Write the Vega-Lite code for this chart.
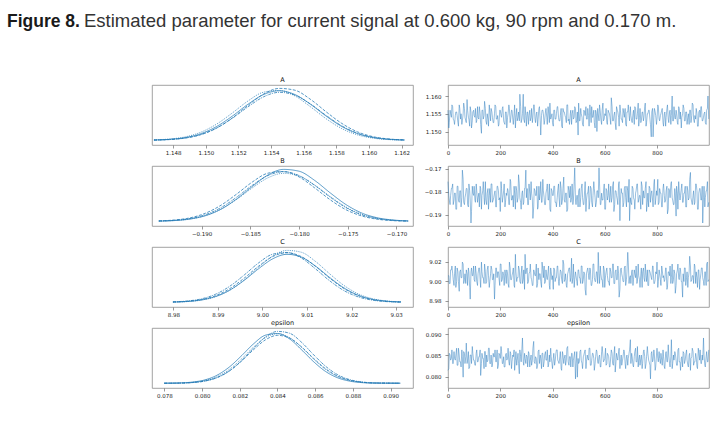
{
"$schema": "https://vega.github.io/schema/vega-lite/v6.json",
"background": "white",
"padding": {"left": 7, "top": 11, "right": 5, "bottom": 5},
"title": {"text": "Figure 8.", "anchor": "start", "frame": "group", "dx": -145, "offset": -18.5, "font": "Liberation Sans", "fontSize": 17.5, "fontWeight": "bold", "color": "#1a1a1a", "lineHeight": 18.5},
"bounds": "flush",
"datasets": {
"trace": [
{"t":0,"A":1.156,"B":-0.1755,"C":9.0055,"E":0.0815},
{"t":5,"A":1.1525,"B":-0.1835,"C":8.9975,"E":0.0855},
{"t":10,"A":1.155,"B":-0.1815,"C":9.0115,"E":0.0839},
{"t":15,"A":1.1575,"B":-0.1785,"C":9.0155,"E":0.0863},
{"t":20,"A":1.1535,"B":-0.1855,"C":9.0015,"E":0.0831},
{"t":25,"A":1.152,"B":-0.1805,"C":9.0075,"E":0.0843},
{"t":30,"A":1.1555,"B":-0.1875,"C":8.9935,"E":0.0851},
{"t":35,"A":1.1545,"B":-0.1775,"C":9.0135,"E":0.0827},
{"t":40,"A":1.1515,"B":-0.1835,"C":8.9995,"E":0.0867},
{"t":45,"A":1.1565,"B":-0.1795,"C":9.0095,"E":0.0835},
{"t":50,"A":1.155,"B":-0.1865,"C":9.0035,"E":0.0823},
{"t":55,"A":1.153,"B":-0.1705,"C":9.0195,"E":0.0847},
{"t":60,"A":1.158,"B":-0.1845,"C":8.9975,"E":0.0859},
{"t":65,"A":1.154,"B":-0.1825,"C":9.0075,"E":0.0831},
{"t":70,"A":1.1525,"B":-0.1785,"C":9.0115,"E":0.0879},
{"t":75,"A":1.156,"B":-0.1855,"C":8.9955,"E":0.0839},
{"t":80,"A":1.1535,"B":-0.1765,"C":9.0095,"E":0.0819},
{"t":85,"A":1.157,"B":-0.1835,"C":8.9815,"E":0.0851},
{"t":90,"A":1.151,"B":-0.1885,"C":9.0135,"E":0.0831},
{"t":95,"A":1.1555,"B":-0.1805,"C":9.0055,"E":0.0855},
{"t":100,"A":1.1545,"B":-0.1775,"C":9.0015,"E":0.0839},
{"t":105,"A":1.1565,"B":-0.1845,"C":9.0155,"E":0.0827},
{"t":110,"A":1.153,"B":-0.1795,"C":8.9995,"E":0.0863},
{"t":115,"A":1.154,"B":-0.1825,"C":9.0075,"E":0.0835},
{"t":120,"A":1.157,"B":-0.1865,"C":9.0135,"E":0.0847},
{"t":125,"A":1.152,"B":-0.1785,"C":8.9935,"E":0.0803},
{"t":130,"A":1.156,"B":-0.1815,"C":9.0095,"E":0.0855},
{"t":135,"A":1.1535,"B":-0.1755,"C":9.0035,"E":0.0843},
{"t":140,"A":1.1585,"B":-0.1855,"C":9.0175,"E":0.0859},
{"t":145,"A":1.153,"B":-0.1835,"C":8.9975,"E":0.0823},
{"t":150,"A":1.155,"B":-0.1805,"C":9.0115,"E":0.0835},
{"t":155,"A":1.1515,"B":-0.1875,"C":9.0055,"E":0.0867},
{"t":160,"A":1.1555,"B":-0.1785,"C":8.9995,"E":0.0831},
{"t":165,"A":1.1565,"B":-0.1765,"C":9.0155,"E":0.0851},
{"t":170,"A":1.154,"B":-0.1845,"C":9.0015,"E":0.0827},
{"t":175,"A":1.1525,"B":-0.1825,"C":9.0075,"E":0.0847},
{"t":180,"A":1.1575,"B":-0.1795,"C":8.9955,"E":0.0863},
{"t":185,"A":1.1535,"B":-0.1865,"C":9.0135,"E":0.0835},
{"t":190,"A":1.1545,"B":-0.1775,"C":9.0095,"E":0.0819},
{"t":195,"A":1.152,"B":-0.1835,"C":9.0035,"E":0.0855},
{"t":200,"A":1.156,"B":-0.1885,"C":9.0175,"E":0.0843},
{"t":205,"A":1.154,"B":-0.1785,"C":8.9995,"E":0.0859},
{"t":210,"A":1.157,"B":-0.1825,"C":9.0095,"E":0.0831},
{"t":215,"A":1.1525,"B":-0.1765,"C":8.9955,"E":0.0823},
{"t":220,"A":1.1555,"B":-0.1845,"C":9.0075,"E":0.0851},
{"t":225,"A":1.151,"B":-0.1815,"C":9.0115,"E":0.0839},
{"t":230,"A":1.155,"B":-0.1795,"C":8.9975,"E":0.0867},
{"t":235,"A":1.1565,"B":-0.1855,"C":9.0195,"E":0.0827},
{"t":240,"A":1.1535,"B":-0.1755,"C":9.0015,"E":0.0855},
{"t":245,"A":1.156,"B":-0.1835,"C":9.0055,"E":0.0835},
{"t":250,"A":1.152,"B":-0.1865,"C":9.0135,"E":0.0847},
{"t":255,"A":1.1575,"B":-0.1805,"C":8.9935,"E":0.0815},
{"t":260,"A":1.154,"B":-0.1775,"C":9.0095,"E":0.0859},
{"t":265,"A":1.153,"B":-0.1845,"C":9.0035,"E":0.0839},
{"t":270,"A":1.1555,"B":-0.1725,"C":9.0155,"E":0.0831},
{"t":275,"A":1.1605,"B":-0.1825,"C":8.9995,"E":0.0863},
{"t":280,"A":1.1525,"B":-0.1875,"C":9.0075,"E":0.0835},
{"t":285,"A":1.155,"B":-0.1795,"C":8.9975,"E":0.0891},
{"t":290,"A":1.1535,"B":-0.1845,"C":9.0115,"E":0.0827},
{"t":295,"A":1.157,"B":-0.1785,"C":9.0275,"E":0.0843},
{"t":300,"A":1.1515,"B":-0.1825,"C":9.0115,"E":0.0851},
{"t":305,"A":1.1555,"B":-0.1855,"C":8.9975,"E":0.0823},
{"t":310,"A":1.1545,"B":-0.1765,"C":9.0075,"E":0.0855},
{"t":315,"A":1.153,"B":-0.1835,"C":9.0175,"E":0.0839},
{"t":320,"A":1.1565,"B":-0.1805,"C":9.0015,"E":0.0827},
{"t":325,"A":1.154,"B":-0.1915,"C":8.9955,"E":0.0867},
{"t":330,"A":1.1575,"B":-0.1785,"C":9.0095,"E":0.0835},
{"t":335,"A":1.1525,"B":-0.1815,"C":9.0055,"E":0.0847},
{"t":340,"A":1.1555,"B":-0.1775,"C":8.9935,"E":0.0819},
{"t":345,"A":1.1535,"B":-0.1865,"C":9.0135,"E":0.0859},
{"t":350,"A":1.157,"B":-0.1835,"C":9.0075,"E":0.0831},
{"t":355,"A":1.149,"B":-0.1755,"C":8.9995,"E":0.0843},
{"t":360,"A":1.156,"B":-0.1845,"C":9.0195,"E":0.0855},
{"t":365,"A":1.155,"B":-0.1795,"C":9.0035,"E":0.0823},
{"t":370,"A":1.153,"B":-0.1855,"C":8.9975,"E":0.0851},
{"t":375,"A":1.1565,"B":-0.1805,"C":9.0115,"E":0.0839},
{"t":380,"A":1.152,"B":-0.1765,"C":9.0015,"E":0.0863},
{"t":385,"A":1.1555,"B":-0.1835,"C":9.0155,"E":0.0827},
{"t":390,"A":1.158,"B":-0.1875,"C":8.9915,"E":0.0835},
{"t":395,"A":1.154,"B":-0.1785,"C":9.0095,"E":0.0847},
{"t":400,"A":1.1525,"B":-0.1815,"C":9.0055,"E":0.0819},
{"t":405,"A":1.156,"B":-0.1775,"C":9.0135,"E":0.0855},
{"t":410,"A":1.1535,"B":-0.1845,"C":8.9995,"E":0.0835},
{"t":415,"A":1.155,"B":-0.1865,"C":9.0035,"E":0.0863},
{"t":420,"A":1.157,"B":-0.1795,"C":9.0155,"E":0.0839},
{"t":425,"A":1.153,"B":-0.1825,"C":8.9955,"E":0.0831},
{"t":430,"A":1.1545,"B":-0.1755,"C":9.0115,"E":0.0859},
{"t":435,"A":1.1515,"B":-0.1855,"C":9.0015,"E":0.0815},
{"t":440,"A":1.1565,"B":-0.1785,"C":9.0215,"E":0.0851},
{"t":445,"A":1.1555,"B":-0.1835,"C":8.9995,"E":0.0843},
{"t":450,"A":1.154,"B":-0.1805,"C":9.0075,"E":0.0827},
{"t":455,"A":1.1575,"B":-0.1885,"C":8.9935,"E":0.0867},
{"t":460,"A":1.153,"B":-0.1775,"C":9.0095,"E":0.0835},
{"t":465,"A":1.152,"B":-0.1825,"C":9.0135,"E":0.0847},
{"t":470,"A":1.156,"B":-0.1845,"C":9.0035,"E":0.0823},
{"t":475,"A":1.155,"B":-0.1765,"C":8.9975,"E":0.0855},
{"t":480,"A":1.1535,"B":-0.1835,"C":9.0175,"E":0.0839},
{"t":485,"A":1.157,"B":-0.1695,"C":9.0015,"E":0.0859},
{"t":490,"A":1.1525,"B":-0.1855,"C":9.0055,"E":0.0831},
{"t":495,"A":1.1555,"B":-0.1815,"C":8.9955,"E":0.0799},
{"t":500,"A":1.158,"B":-0.1795,"C":9.0115,"E":0.0831},
{"t":505,"A":1.153,"B":-0.1865,"C":9.0035,"E":0.0859},
{"t":510,"A":1.155,"B":-0.1785,"C":9.0155,"E":0.0839},
{"t":515,"A":1.152,"B":-0.1825,"C":8.9975,"E":0.0819},
{"t":520,"A":1.156,"B":-0.1855,"C":9.0095,"E":0.0851},
{"t":525,"A":1.1545,"B":-0.1755,"C":8.9915,"E":0.0863},
{"t":530,"A":1.1535,"B":-0.1835,"C":9.0075,"E":0.0835},
{"t":535,"A":1.1565,"B":-0.1805,"C":9.0135,"E":0.0843},
{"t":540,"A":1.1515,"B":-0.1875,"C":9.0015,"E":0.0867},
{"t":545,"A":1.1555,"B":-0.1775,"C":9.0115,"E":0.0827},
{"t":550,"A":1.157,"B":-0.1845,"C":8.9955,"E":0.0839},
{"t":555,"A":1.154,"B":-0.1815,"C":9.0175,"E":0.0855},
{"t":560,"A":1.1525,"B":-0.1785,"C":9.0035,"E":0.0815},
{"t":565,"A":1.156,"B":-0.1865,"C":8.9995,"E":0.0847},
{"t":570,"A":1.15,"B":-0.1795,"C":9.0095,"E":0.0859},
{"t":575,"A":1.155,"B":-0.1825,"C":9.0295,"E":0.0831},
{"t":580,"A":1.1575,"B":-0.1765,"C":8.9975,"E":0.0851},
{"t":585,"A":1.1535,"B":-0.1855,"C":9.0075,"E":0.0823},
{"t":590,"A":1.156,"B":-0.1835,"C":9.0015,"E":0.0871},
{"t":595,"A":1.153,"B":-0.1805,"C":9.0155,"E":0.0835},
{"t":600,"A":1.155,"B":-0.1875,"C":8.9935,"E":0.0843},
{"t":605,"A":1.1565,"B":-0.1785,"C":9.0095,"E":0.0827},
{"t":610,"A":1.152,"B":-0.1835,"C":9.0055,"E":0.0855},
{"t":615,"A":1.1555,"B":-0.1765,"C":8.9995,"E":0.0847},
{"t":620,"A":1.154,"B":-0.1825,"C":9.0135,"E":0.0823},
{"t":625,"A":1.1595,"B":-0.1845,"C":9.0035,"E":0.0863},
{"t":630,"A":1.153,"B":-0.1775,"C":9.0175,"E":0.0831},
{"t":635,"A":1.1545,"B":-0.1885,"C":8.9975,"E":0.0851},
{"t":640,"A":1.1525,"B":-0.1795,"C":9.0095,"E":0.0811},
{"t":645,"A":1.157,"B":-0.1815,"C":9.0015,"E":0.0855},
{"t":650,"A":1.1555,"B":-0.1855,"C":9.0155,"E":0.0839},
{"t":655,"A":1.1515,"B":-0.1755,"C":8.9835,"E":0.0867},
{"t":660,"A":1.156,"B":-0.1835,"C":9.0115,"E":0.0835},
{"t":665,"A":1.1535,"B":-0.1805,"C":9.0075,"E":0.0827},
{"t":670,"A":1.1565,"B":-0.1865,"C":8.9995,"E":0.0847},
{"t":675,"A":1.154,"B":-0.1785,"C":9.0135,"E":0.0859},
{"t":680,"A":1.152,"B":-0.1825,"C":8.9955,"E":0.0819},
{"t":685,"A":1.1555,"B":-0.1775,"C":9.0095,"E":0.0851},
{"t":690,"A":1.1575,"B":-0.1845,"C":9.0195,"E":0.0843},
{"t":695,"A":1.153,"B":-0.1925,"C":9.0035,"E":0.0863},
{"t":700,"A":1.1545,"B":-0.1845,"C":8.9975,"E":0.0831},
{"t":705,"A":1.1525,"B":-0.1775,"C":9.0115,"E":0.0847},
{"t":710,"A":1.156,"B":-0.1825,"C":9.0015,"E":0.0823},
{"t":715,"A":1.157,"B":-0.1875,"C":9.0075,"E":0.0859},
{"t":720,"A":1.1535,"B":-0.1795,"C":9.0155,"E":0.0835},
{"t":725,"A":1.155,"B":-0.1765,"C":8.9995,"E":0.0871},
{"t":730,"A":1.1515,"B":-0.1835,"C":9.0055,"E":0.0839},
{"t":735,"A":1.1565,"B":-0.1815,"C":8.9935,"E":0.0827},
{"t":740,"A":1.153,"B":-0.1755,"C":9.0135,"E":0.0851},
{"t":745,"A":1.1555,"B":-0.1855,"C":9.0095,"E":0.0831},
{"t":750,"A":1.154,"B":-0.1825,"C":9.0035,"E":0.0863},
{"t":755,"A":1.158,"B":-0.1785,"C":9.0175,"E":0.0819},
{"t":760,"A":1.1525,"B":-0.1885,"C":8.9995,"E":0.0847},
{"t":765,"A":1.155,"B":-0.1805,"C":8.9955,"E":0.0855},
{"t":770,"A":1.156,"B":-0.1775,"C":9.0115,"E":0.0835},
{"t":775,"A":1.152,"B":-0.1845,"C":9.0075,"E":0.0795},
{"t":780,"A":1.1555,"B":-0.1795,"C":9.0015,"E":0.0859},
{"t":785,"A":1.1485,"B":-0.1865,"C":9.0155,"E":0.0839},
{"t":790,"A":1.1565,"B":-0.1745,"C":8.9975,"E":0.0851},
{"t":795,"A":1.1545,"B":-0.1835,"C":9.0095,"E":0.0823},
{"t":800,"A":1.1535,"B":-0.1815,"C":9.0195,"E":0.0867},
{"t":805,"A":1.157,"B":-0.1855,"C":8.9995,"E":0.0835},
{"t":810,"A":1.153,"B":-0.1785,"C":9.0075,"E":0.0843},
{"t":815,"A":1.155,"B":-0.1805,"C":8.9955,"E":0.0855},
{"t":820,"A":1.1565,"B":-0.1865,"C":9.0115,"E":0.0827},
{"t":825,"A":1.1515,"B":-0.1765,"C":9.0055,"E":0.0847},
{"t":830,"A":1.1555,"B":-0.1845,"C":9.0015,"E":0.0819},
{"t":835,"A":1.154,"B":-0.1795,"C":9.0135,"E":0.0859},
{"t":840,"A":1.1575,"B":-0.1895,"C":8.9935,"E":0.0835},
{"t":845,"A":1.1525,"B":-0.1785,"C":9.0095,"E":0.0851},
{"t":850,"A":1.156,"B":-0.1825,"C":9.0155,"E":0.0823},
{"t":855,"A":1.1545,"B":-0.1755,"C":9.0035,"E":0.0887},
{"t":860,"A":1.153,"B":-0.1835,"C":8.9975,"E":0.0831},
{"t":865,"A":1.157,"B":-0.1855,"C":9.0115,"E":0.0839},
{"t":870,"A":1.1535,"B":-0.1805,"C":8.9875,"E":0.0855},
{"t":875,"A":1.155,"B":-0.1775,"C":9.0075,"E":0.0827},
{"t":880,"A":1.152,"B":-0.1875,"C":9.0175,"E":0.0863},
{"t":885,"A":1.1565,"B":-0.1795,"C":9.0015,"E":0.0835},
{"t":890,"A":1.1555,"B":-0.1815,"C":9.0115,"E":0.0815},
{"t":895,"A":1.154,"B":-0.1765,"C":8.9995,"E":0.0847},
{"t":900,"A":1.1575,"B":-0.1845,"C":9.0075,"E":0.0859},
{"t":905,"A":1.153,"B":-0.1805,"C":9.0135,"E":0.0831},
{"t":910,"A":1.1555,"B":-0.1865,"C":8.9955,"E":0.0851},
{"t":915,"A":1.152,"B":-0.1775,"C":9.0095,"E":0.0839},
{"t":920,"A":1.155,"B":-0.1835,"C":9.0035,"E":0.0823},
{"t":925,"A":1.156,"B":-0.1745,"C":9.0255,"E":0.0855},
{"t":930,"A":1.1525,"B":-0.1825,"C":8.9995,"E":0.0843},
{"t":935,"A":1.158,"B":-0.1855,"C":9.0055,"E":0.0867},
{"t":940,"A":1.1535,"B":-0.1795,"C":8.9975,"E":0.0827},
{"t":945,"A":1.1545,"B":-0.1845,"C":9.0155,"E":0.0835},
{"t":950,"A":1.1565,"B":-0.1765,"C":9.0095,"E":0.0847},
{"t":955,"A":1.1515,"B":-0.1875,"C":8.9935,"E":0.0819},
{"t":960,"A":1.1555,"B":-0.1805,"C":9.0115,"E":0.0855},
{"t":965,"A":1.154,"B":-0.1785,"C":9.0015,"E":0.0863},
{"t":970,"A":1.157,"B":-0.1835,"C":9.0135,"E":0.0831},
{"t":975,"A":1.153,"B":-0.1935,"C":9.0035,"E":0.0839},
{"t":980,"A":1.155,"B":-0.1775,"C":8.9955,"E":0.0851},
{"t":985,"A":1.1525,"B":-0.1825,"C":9.0095,"E":0.0823},
{"t":990,"A":1.156,"B":-0.1795,"C":9.0175,"E":0.0859},
{"t":995,"A":1.16,"B":-0.1865,"C":8.9995,"E":0.0835},
{"t":3,"A":1.151,"B":-0.1815,"C":9.0055,"E":0.0819},
{"t":8,"A":1.156,"B":-0.1855,"C":8.9975,"E":0.0851},
{"t":13,"A":1.154,"B":-0.1785,"C":9.0115,"E":0.0843},
{"t":18,"A":1.157,"B":-0.1765,"C":9.0075,"E":0.0831},
{"t":23,"A":1.153,"B":-0.1835,"C":8.9955,"E":0.0859},
{"t":28,"A":1.1545,"B":-0.1805,"C":9.0155,"E":0.0839},
{"t":33,"A":1.1555,"B":-0.1875,"C":8.9995,"E":0.0867},
{"t":38,"A":1.1525,"B":-0.1775,"C":9.0095,"E":0.0827},
{"t":43,"A":1.1575,"B":-0.1845,"C":8.9895,"E":0.0851},
{"t":48,"A":1.1535,"B":-0.1795,"C":9.0115,"E":0.0835},
{"t":53,"A":1.152,"B":-0.1825,"C":9.0035,"E":0.0863},
{"t":58,"A":1.155,"B":-0.1745,"C":9.0175,"E":0.0799},
{"t":63,"A":1.1565,"B":-0.1855,"C":9.0015,"E":0.0855},
{"t":68,"A":1.153,"B":-0.1805,"C":8.9975,"E":0.0847},
{"t":73,"A":1.159,"B":-0.1785,"C":9.0075,"E":0.0831},
{"t":78,"A":1.154,"B":-0.1865,"C":9.0135,"E":0.0859},
{"t":83,"A":1.1515,"B":-0.1795,"C":8.9935,"E":0.0823},
{"t":88,"A":1.1555,"B":-0.1935,"C":9.0095,"E":0.0851},
{"t":93,"A":1.153,"B":-0.1775,"C":9.0055,"E":0.0871},
{"t":98,"A":1.156,"B":-0.1815,"C":9.0155,"E":0.0839},
{"t":103,"A":1.154,"B":-0.1835,"C":8.9995,"E":0.0827},
{"t":108,"A":1.1525,"B":-0.1765,"C":9.0075,"E":0.0855},
{"t":113,"A":1.157,"B":-0.1845,"C":8.9955,"E":0.0835},
{"t":118,"A":1.1535,"B":-0.1805,"C":9.0135,"E":0.0847},
{"t":123,"A":1.155,"B":-0.1775,"C":9.0015,"E":0.0863},
{"t":128,"A":1.1495,"B":-0.1875,"C":9.0195,"E":0.0831},
{"t":133,"A":1.156,"B":-0.1795,"C":9.0035,"E":0.0843},
{"t":138,"A":1.1545,"B":-0.1825,"C":8.9975,"E":0.0819},
{"t":143,"A":1.1565,"B":-0.1755,"C":9.0095,"E":0.0859},
{"t":148,"A":1.152,"B":-0.1855,"C":8.9995,"E":0.0851},
{"t":153,"A":1.1535,"B":-0.1785,"C":9.0155,"E":0.0839},
{"t":158,"A":1.1575,"B":-0.1815,"C":8.9935,"E":0.0867},
{"t":163,"A":1.153,"B":-0.1845,"C":9.0075,"E":0.0831},
{"t":168,"A":1.1555,"B":-0.1765,"C":9.0115,"E":0.0823},
{"t":173,"A":1.1525,"B":-0.1835,"C":9.0015,"E":0.0855},
{"t":178,"A":1.155,"B":-0.1805,"C":8.9815,"E":0.0847},
{"t":183,"A":1.157,"B":-0.1865,"C":9.0135,"E":0.0835},
{"t":188,"A":1.1535,"B":-0.1775,"C":9.0035,"E":0.0863},
{"t":193,"A":1.1515,"B":-0.1795,"C":9.0095,"E":0.0827},
{"t":198,"A":1.156,"B":-0.1825,"C":8.9955,"E":0.0851},
{"t":203,"A":1.1545,"B":-0.1755,"C":9.0175,"E":0.0871},
{"t":208,"A":1.1565,"B":-0.1845,"C":9.0015,"E":0.0831},
{"t":213,"A":1.153,"B":-0.1795,"C":9.0055,"E":0.0847},
{"t":218,"A":1.152,"B":-0.1865,"C":9.0115,"E":0.0823},
{"t":223,"A":1.1555,"B":-0.1805,"C":8.9975,"E":0.0855},
{"t":228,"A":1.154,"B":-0.1785,"C":9.0075,"E":0.0843},
{"t":233,"A":1.1575,"B":-0.1855,"C":8.9935,"E":0.0835},
{"t":238,"A":1.1525,"B":-0.1745,"C":9.0135,"E":0.0859},
{"t":243,"A":1.156,"B":-0.1835,"C":9.0015,"E":0.0819},
{"t":248,"A":1.1535,"B":-0.1815,"C":9.0095,"E":0.0851},
{"t":253,"A":1.155,"B":-0.1775,"C":8.9955,"E":0.0863},
{"t":258,"A":1.151,"B":-0.1875,"C":9.0275,"E":0.0839},
{"t":263,"A":1.1565,"B":-0.1795,"C":8.9995,"E":0.0827},
{"t":268,"A":1.154,"B":-0.1825,"C":9.0035,"E":0.0855},
{"t":273,"A":1.153,"B":-0.1765,"C":9.0115,"E":0.0807},
{"t":278,"A":1.157,"B":-0.1845,"C":8.9975,"E":0.0847},
{"t":283,"A":1.1535,"B":-0.1805,"C":9.0155,"E":0.0867},
{"t":288,"A":1.1605,"B":-0.1855,"C":9.0015,"E":0.0835},
{"t":293,"A":1.1525,"B":-0.1785,"C":8.9915,"E":0.0855},
{"t":298,"A":1.1545,"B":-0.1705,"C":9.0075,"E":0.0831},
{"t":303,"A":1.1555,"B":-0.1785,"C":9.0135,"E":0.0847},
{"t":308,"A":1.152,"B":-0.1855,"C":8.9995,"E":0.0859},
{"t":313,"A":1.156,"B":-0.1805,"C":9.0095,"E":0.0823},
{"t":318,"A":1.154,"B":-0.1755,"C":9.0035,"E":0.0851},
{"t":323,"A":1.1525,"B":-0.1835,"C":8.9955,"E":0.0839},
{"t":328,"A":1.1575,"B":-0.1865,"C":9.0115,"E":0.0883},
{"t":333,"A":1.1535,"B":-0.1795,"C":9.0055,"E":0.0831},
{"t":338,"A":1.155,"B":-0.1815,"C":9.0175,"E":0.0843},
{"t":343,"A":1.1515,"B":-0.1875,"C":8.9975,"E":0.0827},
{"t":348,"A":1.1565,"B":-0.1775,"C":9.0015,"E":0.0863},
{"t":353,"A":1.153,"B":-0.1805,"C":9.0075,"E":0.0851},
{"t":358,"A":1.1545,"B":-0.1845,"C":8.9935,"E":0.0819},
{"t":363,"A":1.156,"B":-0.1745,"C":9.0115,"E":0.0855},
{"t":368,"A":1.152,"B":-0.1825,"C":9.0155,"E":0.0835},
{"t":373,"A":1.1555,"B":-0.1855,"C":8.9995,"E":0.0859},
{"t":378,"A":1.154,"B":-0.1785,"C":9.0035,"E":0.0839},
{"t":383,"A":1.157,"B":-0.1835,"C":9.0095,"E":0.0823},
{"t":388,"A":1.1525,"B":-0.1765,"C":8.9955,"E":0.0851},
{"t":393,"A":1.1535,"B":-0.1885,"C":9.0135,"E":0.0867},
{"t":398,"A":1.155,"B":-0.1795,"C":9.0015,"E":0.0831},
{"t":403,"A":1.1515,"B":-0.1815,"C":8.9915,"E":0.0843},
{"t":408,"A":1.156,"B":-0.1775,"C":9.0115,"E":0.0827},
{"t":413,"A":1.1535,"B":-0.1845,"C":9.0035,"E":0.0855},
{"t":418,"A":1.157,"B":-0.1825,"C":9.0155,"E":0.0863},
{"t":423,"A":1.154,"B":-0.1765,"C":8.9995,"E":0.0835},
{"t":428,"A":1.153,"B":-0.1865,"C":9.0055,"E":0.0847},
{"t":433,"A":1.1565,"B":-0.1785,"C":9.0095,"E":0.0819},
{"t":438,"A":1.151,"B":-0.1835,"C":8.9975,"E":0.0859},
{"t":443,"A":1.1555,"B":-0.1735,"C":9.0175,"E":0.0831},
{"t":448,"A":1.1545,"B":-0.1845,"C":9.0015,"E":0.0851},
{"t":453,"A":1.1525,"B":-0.1805,"C":8.9955,"E":0.0839},
{"t":458,"A":1.1575,"B":-0.1875,"C":9.0075,"E":0.0871},
{"t":463,"A":1.1535,"B":-0.1795,"C":9.0135,"E":0.0827},
{"t":468,"A":1.155,"B":-0.1775,"C":8.9995,"E":0.0847},
{"t":473,"A":1.152,"B":-0.1825,"C":9.0235,"E":0.0855},
{"t":478,"A":1.156,"B":-0.1855,"C":9.0035,"E":0.0823},
{"t":483,"A":1.154,"B":-0.1755,"C":8.9935,"E":0.0851},
{"t":488,"A":1.1565,"B":-0.1835,"C":9.0095,"E":0.0795},
{"t":493,"A":1.153,"B":-0.1815,"C":8.9995,"E":0.0859},
{"t":498,"A":1.149,"B":-0.1865,"C":9.0115,"E":0.0843},
{"t":503,"A":1.153,"B":-0.1785,"C":9.0035,"E":0.0835},
{"t":508,"A":1.1565,"B":-0.1825,"C":8.9975,"E":0.0863},
{"t":513,"A":1.154,"B":-0.1765,"C":9.0155,"E":0.0831},
{"t":518,"A":1.1515,"B":-0.1855,"C":9.0015,"E":0.0847},
{"t":523,"A":1.1555,"B":-0.1795,"C":9.0075,"E":0.0859},
{"t":528,"A":1.157,"B":-0.1885,"C":8.9855,"E":0.0819},
{"t":533,"A":1.1535,"B":-0.1805,"C":9.0115,"E":0.0851},
{"t":538,"A":1.1545,"B":-0.1775,"C":9.0055,"E":0.0839},
{"t":543,"A":1.1575,"B":-0.1835,"C":9.0135,"E":0.0867},
{"t":548,"A":1.1525,"B":-0.1785,"C":8.9955,"E":0.0827},
{"t":553,"A":1.154,"B":-0.1865,"C":9.0015,"E":0.0855},
{"t":558,"A":1.156,"B":-0.1755,"C":9.0175,"E":0.0843},
{"t":563,"A":1.151,"B":-0.1825,"C":8.9995,"E":0.0831},
{"t":568,"A":1.155,"B":-0.1845,"C":9.0095,"E":0.0863},
{"t":573,"A":1.1565,"B":-0.1795,"C":8.9975,"E":0.0835},
{"t":578,"A":1.153,"B":-0.1695,"C":9.0075,"E":0.0847},
{"t":583,"A":1.1555,"B":-0.1855,"C":9.0155,"E":0.0823},
{"t":588,"A":1.152,"B":-0.1805,"C":9.0015,"E":0.0859},
{"t":593,"A":1.158,"B":-0.1835,"C":8.9935,"E":0.0851},
{"t":598,"A":1.1535,"B":-0.1765,"C":9.0115,"E":0.0839},
{"t":603,"A":1.1545,"B":-0.1875,"C":9.0055,"E":0.0867},
{"t":608,"A":1.1525,"B":-0.1795,"C":9.0135,"E":0.0831},
{"t":613,"A":1.156,"B":-0.1815,"C":8.9995,"E":0.0851},
{"t":618,"A":1.155,"B":-0.1845,"C":8.9955,"E":0.0823},
{"t":623,"A":1.152,"B":-0.1775,"C":9.0095,"E":0.0847},
{"t":628,"A":1.157,"B":-0.1825,"C":9.0035,"E":0.0855},
{"t":633,"A":1.153,"B":-0.1755,"C":9.0175,"E":0.0827},
{"t":638,"A":1.1555,"B":-0.1855,"C":8.9975,"E":0.0871},
{"t":643,"A":1.1505,"B":-0.1795,"C":9.0115,"E":0.0835},
{"t":648,"A":1.156,"B":-0.1835,"C":9.0015,"E":0.0843},
{"t":653,"A":1.154,"B":-0.1765,"C":9.0075,"E":0.0859},
{"t":658,"A":1.1575,"B":-0.1925,"C":8.9915,"E":0.0819},
{"t":663,"A":1.1535,"B":-0.1785,"C":9.0135,"E":0.0851},
{"t":668,"A":1.1525,"B":-0.1805,"C":9.0035,"E":0.0839},
{"t":673,"A":1.155,"B":-0.1845,"C":8.9995,"E":0.0863},
{"t":678,"A":1.1565,"B":-0.1775,"C":9.0155,"E":0.0831},
{"t":683,"A":1.1515,"B":-0.1865,"C":9.0015,"E":0.0847},
{"t":688,"A":1.1555,"B":-0.1795,"C":9.0295,"E":0.0827},
{"t":693,"A":1.1545,"B":-0.1745,"C":8.9975,"E":0.0855},
{"t":698,"A":1.157,"B":-0.1825,"C":9.0055,"E":0.0887},
{"t":703,"A":1.153,"B":-0.1855,"C":9.0095,"E":0.0855},
{"t":708,"A":1.155,"B":-0.1785,"C":8.9955,"E":0.0827},
{"t":713,"A":1.152,"B":-0.1835,"C":9.0115,"E":0.0847},
{"t":718,"A":1.1565,"B":-0.1805,"C":9.0035,"E":0.0867},
{"t":723,"A":1.1535,"B":-0.1765,"C":8.9975,"E":0.0835},
{"t":728,"A":1.158,"B":-0.1845,"C":9.0175,"E":0.0823},
{"t":733,"A":1.154,"B":-0.1815,"C":9.0015,"E":0.0851},
{"t":738,"A":1.1525,"B":-0.1875,"C":9.0075,"E":0.0843},
{"t":743,"A":1.1555,"B":-0.1775,"C":8.9935,"E":0.0819},
{"t":748,"A":1.153,"B":-0.1795,"C":9.0135,"E":0.0859},
{"t":753,"A":1.157,"B":-0.1825,"C":8.9995,"E":0.0847},
{"t":758,"A":1.1515,"B":-0.1755,"C":9.0055,"E":0.0831},
{"t":763,"A":1.155,"B":-0.1845,"C":9.0115,"E":0.0871},
{"t":768,"A":1.156,"B":-0.1865,"C":8.9955,"E":0.0839},
{"t":773,"A":1.1535,"B":-0.1785,"C":9.0095,"E":0.0827},
{"t":778,"A":1.1485,"B":-0.1805,"C":9.0035,"E":0.0855},
{"t":783,"A":1.1565,"B":-0.1835,"C":9.0155,"E":0.0835},
{"t":788,"A":1.154,"B":-0.1765,"C":8.9975,"E":0.0863},
{"t":793,"A":1.1555,"B":-0.1855,"C":9.0015,"E":0.0815},
{"t":798,"A":1.152,"B":-0.1795,"C":9.0075,"E":0.0851},
{"t":803,"A":1.1575,"B":-0.1745,"C":8.9935,"E":0.0843},
{"t":808,"A":1.1535,"B":-0.1845,"C":9.0115,"E":0.0859},
{"t":813,"A":1.1545,"B":-0.1805,"C":9.0015,"E":0.0831},
{"t":818,"A":1.156,"B":-0.1865,"C":9.0155,"E":0.0839},
{"t":823,"A":1.1525,"B":-0.1785,"C":9.0035,"E":0.0863},
{"t":828,"A":1.155,"B":-0.1815,"C":8.9995,"E":0.0823},
{"t":833,"A":1.1515,"B":-0.1835,"C":9.0135,"E":0.0855},
{"t":838,"A":1.1565,"B":-0.1775,"C":8.9915,"E":0.0835},
{"t":843,"A":1.1535,"B":-0.1875,"C":9.0095,"E":0.0875},
{"t":848,"A":1.1555,"B":-0.1795,"C":9.0055,"E":0.0831},
{"t":853,"A":1.152,"B":-0.1765,"C":8.9975,"E":0.0847},
{"t":858,"A":1.16,"B":-0.1825,"C":9.0175,"E":0.0819},
{"t":863,"A":1.153,"B":-0.1855,"C":9.0015,"E":0.0851},
{"t":868,"A":1.154,"B":-0.1785,"C":9.0075,"E":0.0859},
{"t":873,"A":1.156,"B":-0.1905,"C":8.9955,"E":0.0839},
{"t":878,"A":1.1525,"B":-0.1805,"C":9.0115,"E":0.0827},
{"t":883,"A":1.157,"B":-0.1755,"C":9.0035,"E":0.0867},
{"t":888,"A":1.1535,"B":-0.1835,"C":9.0135,"E":0.0835},
{"t":893,"A":1.151,"B":-0.1785,"C":8.9995,"E":0.0843},
{"t":898,"A":1.155,"B":-0.1845,"C":8.9835,"E":0.0823},
{"t":903,"A":1.1565,"B":-0.1805,"C":8.9995,"E":0.0855},
{"t":908,"A":1.153,"B":-0.1775,"C":9.0135,"E":0.0839},
{"t":913,"A":1.1555,"B":-0.1865,"C":9.0035,"E":0.0863},
{"t":918,"A":1.154,"B":-0.1795,"C":8.9935,"E":0.0827},
{"t":923,"A":1.152,"B":-0.1825,"C":9.0095,"E":0.0851},
{"t":928,"A":1.156,"B":-0.1715,"C":9.0155,"E":0.0815},
{"t":933,"A":1.1545,"B":-0.1845,"C":9.0015,"E":0.0847},
{"t":938,"A":1.1575,"B":-0.1815,"C":9.0055,"E":0.0859},
{"t":943,"A":1.1525,"B":-0.1855,"C":9.0175,"E":0.0835},
{"t":948,"A":1.1535,"B":-0.1765,"C":8.9975,"E":0.0855},
{"t":953,"A":1.155,"B":-0.1795,"C":9.0035,"E":0.0823},
{"t":958,"A":1.1515,"B":-0.1875,"C":9.0115,"E":0.0867},
{"t":963,"A":1.156,"B":-0.1785,"C":8.9915,"E":0.0839},
{"t":968,"A":1.157,"B":-0.1835,"C":9.0075,"E":0.0831},
{"t":973,"A":1.153,"B":-0.1775,"C":9.0135,"E":0.0851},
{"t":978,"A":1.154,"B":-0.1825,"C":8.9995,"E":0.0891},
{"t":983,"A":1.1555,"B":-0.1865,"C":9.0095,"E":0.0827},
{"t":988,"A":1.152,"B":-0.1795,"C":8.9955,"E":0.0847},
{"t":993,"A":1.1565,"B":-0.1755,"C":9.0195,"E":0.0835},
{"t":998,"A":1.1535,"B":-0.1845,"C":9.0015,"E":0.0863}
],
"dens": [
{"p":"A","x":1.14682,"s":0.006,"d":0.004,"o":0.008,"dd":0.005},
{"p":"A","x":1.14778,"s":0.019,"d":0.014,"o":0.025,"dd":0.016},
{"p":"A","x":1.14874,"s":0.053,"d":0.043,"o":0.066,"dd":0.045},
{"p":"A","x":1.1497,"s":0.128,"d":0.108,"o":0.156,"dd":0.112},
{"p":"A","x":1.15066,"s":0.264,"d":0.233,"o":0.31,"dd":0.236},
{"p":"A","x":1.15162,"s":0.463,"d":0.429,"o":0.523,"dd":0.421},
{"p":"A","x":1.15258,"s":0.69,"d":0.668,"o":0.753,"dd":0.641},
{"p":"A","x":1.15354,"s":0.877,"d":0.886,"o":0.922,"dd":0.833},
{"p":"A","x":1.1545,"s":0.95,"d":0.995,"o":0.955,"dd":0.92},
{"p":"A","x":1.15546,"s":0.877,"d":0.96,"o":0.851,"dd":0.866},
{"p":"A","x":1.15642,"s":0.69,"d":0.784,"o":0.641,"dd":0.695},
{"p":"A","x":1.15738,"s":0.463,"d":0.545,"o":0.412,"dd":0.475},
{"p":"A","x":1.15834,"s":0.264,"d":0.323,"o":0.224,"dd":0.276},
{"p":"A","x":1.1593,"s":0.128,"d":0.162,"o":0.104,"dd":0.137},
{"p":"A","x":1.16026,"s":0.053,"d":0.069,"o":0.041,"dd":0.058},
{"p":"A","x":1.16122,"s":0.019,"d":0.026,"o":0.013,"dd":0.021},
{"p":"A","x":1.16218,"s":0.006,"d":0.008,"o":0.004,"dd":0.006},
{"p":"B","x":-0.1944,"s":0.004,"d":0.008,"o":0.005,"dd":0.006},
{"p":"B","x":-0.1928,"s":0.014,"d":0.025,"o":0.016,"dd":0.019},
{"p":"B","x":-0.1912,"s":0.043,"d":0.066,"o":0.045,"dd":0.053},
{"p":"B","x":-0.1896,"s":0.108,"d":0.156,"o":0.112,"dd":0.128},
{"p":"B","x":-0.188,"s":0.233,"d":0.31,"o":0.236,"dd":0.264},
{"p":"B","x":-0.1864,"s":0.429,"d":0.523,"o":0.421,"dd":0.463},
{"p":"B","x":-0.1848,"s":0.668,"d":0.753,"o":0.641,"dd":0.69},
{"p":"B","x":-0.1832,"s":0.886,"d":0.922,"o":0.833,"dd":0.877},
{"p":"B","x":-0.1816,"s":0.995,"d":0.955,"o":0.92,"dd":0.95},
{"p":"B","x":-0.18,"s":0.96,"d":0.851,"o":0.866,"dd":0.877},
{"p":"B","x":-0.1784,"s":0.784,"d":0.641,"o":0.695,"dd":0.69},
{"p":"B","x":-0.1768,"s":0.545,"d":0.412,"o":0.475,"dd":0.463},
{"p":"B","x":-0.1752,"s":0.323,"d":0.224,"o":0.276,"dd":0.264},
{"p":"B","x":-0.1736,"s":0.162,"d":0.104,"o":0.137,"dd":0.128},
{"p":"B","x":-0.172,"s":0.069,"d":0.041,"o":0.058,"dd":0.053},
{"p":"B","x":-0.1704,"s":0.026,"d":0.013,"o":0.021,"dd":0.019},
{"p":"B","x":-0.1688,"s":0.008,"d":0.004,"o":0.006,"dd":0.006},
{"p":"C","x":8.9799,"s":0.005,"d":0.006,"o":0.004,"dd":0.008},
{"p":"C","x":8.9831,"s":0.016,"d":0.019,"o":0.014,"dd":0.025},
{"p":"C","x":8.9863,"s":0.045,"d":0.053,"o":0.043,"dd":0.066},
{"p":"C","x":8.9895,"s":0.112,"d":0.128,"o":0.108,"dd":0.156},
{"p":"C","x":8.9927,"s":0.236,"d":0.264,"o":0.233,"dd":0.31},
{"p":"C","x":8.9959,"s":0.421,"d":0.463,"o":0.429,"dd":0.523},
{"p":"C","x":8.9991,"s":0.641,"d":0.69,"o":0.668,"dd":0.753},
{"p":"C","x":9.0023,"s":0.833,"d":0.877,"o":0.886,"dd":0.922},
{"p":"C","x":9.0055,"s":0.92,"d":0.95,"o":0.995,"dd":0.955},
{"p":"C","x":9.0087,"s":0.866,"d":0.877,"o":0.96,"dd":0.851},
{"p":"C","x":9.0119,"s":0.695,"d":0.69,"o":0.784,"dd":0.641},
{"p":"C","x":9.0151,"s":0.475,"d":0.463,"o":0.545,"dd":0.412},
{"p":"C","x":9.0183,"s":0.276,"d":0.264,"o":0.323,"dd":0.224},
{"p":"C","x":9.0215,"s":0.137,"d":0.128,"o":0.162,"dd":0.104},
{"p":"C","x":9.0247,"s":0.058,"d":0.053,"o":0.069,"dd":0.041},
{"p":"C","x":9.0279,"s":0.021,"d":0.019,"o":0.026,"dd":0.013},
{"p":"C","x":9.0311,"s":0.006,"d":0.006,"o":0.008,"dd":0.004},
{"p":"E","x":0.078,"s":0.002,"d":0.002,"o":0.002,"dd":0.002},
{"p":"E","x":0.07888,"s":0.008,"d":0.005,"o":0.006,"dd":0.004},
{"p":"E","x":0.07952,"s":0.025,"d":0.016,"o":0.019,"dd":0.014},
{"p":"E","x":0.08016,"s":0.066,"d":0.045,"o":0.053,"dd":0.043},
{"p":"E","x":0.0808,"s":0.156,"d":0.112,"o":0.128,"dd":0.108},
{"p":"E","x":0.08144,"s":0.31,"d":0.236,"o":0.264,"dd":0.233},
{"p":"E","x":0.08208,"s":0.523,"d":0.421,"o":0.463,"dd":0.429},
{"p":"E","x":0.08272,"s":0.753,"d":0.641,"o":0.69,"dd":0.668},
{"p":"E","x":0.08336,"s":0.922,"d":0.833,"o":0.877,"dd":0.886},
{"p":"E","x":0.084,"s":0.955,"d":0.92,"o":0.95,"dd":0.995},
{"p":"E","x":0.08464,"s":0.851,"d":0.866,"o":0.877,"dd":0.96},
{"p":"E","x":0.08528,"s":0.641,"d":0.695,"o":0.69,"dd":0.784},
{"p":"E","x":0.08592,"s":0.412,"d":0.475,"o":0.463,"dd":0.545},
{"p":"E","x":0.08656,"s":0.224,"d":0.276,"o":0.264,"dd":0.323},
{"p":"E","x":0.0872,"s":0.104,"d":0.137,"o":0.128,"dd":0.162},
{"p":"E","x":0.08784,"s":0.041,"d":0.058,"o":0.053,"dd":0.069},
{"p":"E","x":0.08848,"s":0.013,"d":0.021,"o":0.019,"dd":0.026},
{"p":"E","x":0.08912,"s":0.004,"d":0.006,"o":0.006,"dd":0.008},
{"p":"E","x":0.0905,"s":0.002,"d":0.002,"o":0.002,"dd":0.002}
]
},
"vconcat": [
{
"title": {"text": "Estimated parameter for current signal at 0.600 kg, 90 rpm and 0.170 m.", "anchor": "start", "frame": "group", "dx": -68, "offset": 46, "font": "Liberation Sans", "fontSize": 18.5, "fontWeight": "normal", "color": "#333333", "lineHeight": 18.5},
"columns": 2,
"spacing": {"row": 21, "column": 35},
"bounds": "flush",
"concat": [
{"width": 261, "height": 60, "title": "A", "data": {"name": "dens"},
 "transform": [{"filter": "datum.p === 'A'"}, {"fold": ["s", "d", "o", "dd"], "as": ["chain", "y"]}],
 "mark": {"type": "line", "interpolate": "monotone", "strokeWidth": 0.9, "color": "#1f77b4", "opacity": 0.85},
 "encoding": {
  "x": {"field": "x", "type": "quantitative", "scale": {"domain": [1.1467, 1.1627], "nice": false, "zero": false}, "axis": {"values": [1.148, 1.15, 1.152, 1.154, 1.156, 1.158, 1.16, 1.162], "format": ".3f", "title": null}},
  "y": {"field": "y", "type": "quantitative", "scale": {"domain": [-0.09, 1.06], "nice": false}, "axis": null},
  "strokeDash": {"field": "chain", "type": "nominal", "scale": {"domain": ["s", "d", "o", "dd"], "range": [[1, 0], [3, 1.5], [1, 1.2], [3, 1, 1, 1]]}, "legend": null}}},
{"width": 261, "height": 60, "title": "A", "data": {"name": "trace"},
 "mark": {"type": "line", "strokeWidth": 0.7, "color": "#2f7fc0", "opacity": 0.7},
 "encoding": {
  "x": {"field": "t", "type": "quantitative", "scale": {"domain": [0, 999], "nice": false}, "axis": {"values": [0, 200, 400, 600, 800], "title": null}},
  "y": {"field": "A", "type": "quantitative", "scale": {"domain": [1.1462, 1.1631], "nice": false, "zero": false}, "axis": {"values": [1.15, 1.155, 1.16], "format": ".3f", "title": null}}}},
{"width": 261, "height": 60, "title": "B", "data": {"name": "dens"},
 "transform": [{"filter": "datum.p === 'B'"}, {"fold": ["s", "d", "o", "dd"], "as": ["chain", "y"]}],
 "mark": {"type": "line", "interpolate": "monotone", "strokeWidth": 0.9, "color": "#1f77b4", "opacity": 0.85},
 "encoding": {
  "x": {"field": "x", "type": "quantitative", "scale": {"domain": [-0.1951, -0.1683], "nice": false, "zero": false}, "axis": {"values": [-0.19, -0.185, -0.18, -0.175, -0.17], "format": ".3f", "title": null}},
  "y": {"field": "y", "type": "quantitative", "scale": {"domain": [-0.09, 1.06], "nice": false}, "axis": null},
  "strokeDash": {"field": "chain", "type": "nominal", "scale": {"domain": ["s", "d", "o", "dd"], "range": [[1, 0], [3, 1.5], [1, 1.2], [3, 1, 1, 1]]}, "legend": null}}},
{"width": 261, "height": 60, "title": "B", "data": {"name": "trace"},
 "mark": {"type": "line", "strokeWidth": 0.7, "color": "#2f7fc0", "opacity": 0.7},
 "encoding": {
  "x": {"field": "t", "type": "quantitative", "scale": {"domain": [0, 999], "nice": false}, "axis": {"values": [0, 200, 400, 600, 800], "title": null}},
  "y": {"field": "B", "type": "quantitative", "scale": {"domain": [-0.1948, -0.1687], "nice": false, "zero": false}, "axis": {"values": [-0.19, -0.18, -0.17], "format": ".2f", "title": null}}}},
{"width": 261, "height": 60, "title": "C", "data": {"name": "dens"},
 "transform": [{"filter": "datum.p === 'C'"}, {"fold": ["s", "d", "o", "dd"], "as": ["chain", "y"]}],
 "mark": {"type": "line", "interpolate": "monotone", "strokeWidth": 0.9, "color": "#1f77b4", "opacity": 0.85},
 "encoding": {
  "x": {"field": "x", "type": "quantitative", "scale": {"domain": [8.9752, 9.0338], "nice": false, "zero": false}, "axis": {"values": [8.98, 8.99, 9.0, 9.01, 9.02, 9.03], "format": ".2f", "title": null}},
  "y": {"field": "y", "type": "quantitative", "scale": {"domain": [-0.09, 1.06], "nice": false}, "axis": null},
  "strokeDash": {"field": "chain", "type": "nominal", "scale": {"domain": ["s", "d", "o", "dd"], "range": [[1, 0], [3, 1.5], [1, 1.2], [3, 1, 1, 1]]}, "legend": null}}},
{"width": 261, "height": 60, "title": "C", "data": {"name": "trace"},
 "mark": {"type": "line", "strokeWidth": 0.7, "color": "#2f7fc0", "opacity": 0.7},
 "encoding": {
  "x": {"field": "t", "type": "quantitative", "scale": {"domain": [0, 999], "nice": false}, "axis": {"values": [0, 200, 400, 600, 800], "title": null}},
  "y": {"field": "C", "type": "quantitative", "scale": {"domain": [8.9734, 9.035], "nice": false, "zero": false}, "axis": {"values": [8.98, 9.0, 9.02], "format": ".2f", "title": null}}}},
{"width": 261, "height": 60, "title": "epsilon", "data": {"name": "dens"},
 "transform": [{"filter": "datum.p === 'E'"}, {"fold": ["s", "d", "o", "dd"], "as": ["chain", "y"]}],
 "mark": {"type": "line", "interpolate": "monotone", "strokeWidth": 0.9, "color": "#1f77b4", "opacity": 0.85},
 "encoding": {
  "x": {"field": "x", "type": "quantitative", "scale": {"domain": [0.07735, 0.09118], "nice": false, "zero": false}, "axis": {"values": [0.078, 0.08, 0.082, 0.084, 0.086, 0.088, 0.09], "format": ".3f", "title": null}},
  "y": {"field": "y", "type": "quantitative", "scale": {"domain": [-0.09, 1.06], "nice": false}, "axis": null},
  "strokeDash": {"field": "chain", "type": "nominal", "scale": {"domain": ["s", "d", "o", "dd"], "range": [[1, 0], [3, 1.5], [1, 1.2], [3, 1, 1, 1]]}, "legend": null}}},
{"width": 261, "height": 60, "title": "epsilon", "data": {"name": "trace"},
 "mark": {"type": "line", "strokeWidth": 0.7, "color": "#2f7fc0", "opacity": 0.7},
 "encoding": {
  "x": {"field": "t", "type": "quantitative", "scale": {"domain": [0, 999], "nice": false}, "axis": {"values": [0, 200, 400, 600, 800], "title": null}},
  "y": {"field": "E", "type": "quantitative", "scale": {"domain": [0.07736, 0.09144], "nice": false, "zero": false}, "axis": {"values": [0.08, 0.085, 0.09], "format": ".3f", "title": null}}}}
]
}
],
"config": {
 "view": {"stroke": "#8c8c8c", "strokeWidth": 0.8},
 "axis": {"domain": false, "grid": false, "labelFont": "DejaVu Sans", "labelFontSize": 5.5, "labelColor": "#222222", "tickColor": "#555555", "tickSize": 3, "tickWidth": 0.6, "labelPadding": 2, "labelFlush": false, "labelOverlap": false},
 "axisY": {"labelPadding": 4},
 "title": {"font": "DejaVu Sans", "fontSize": 6.5, "fontWeight": "normal", "color": "#111111", "offset": 2}
}
}
